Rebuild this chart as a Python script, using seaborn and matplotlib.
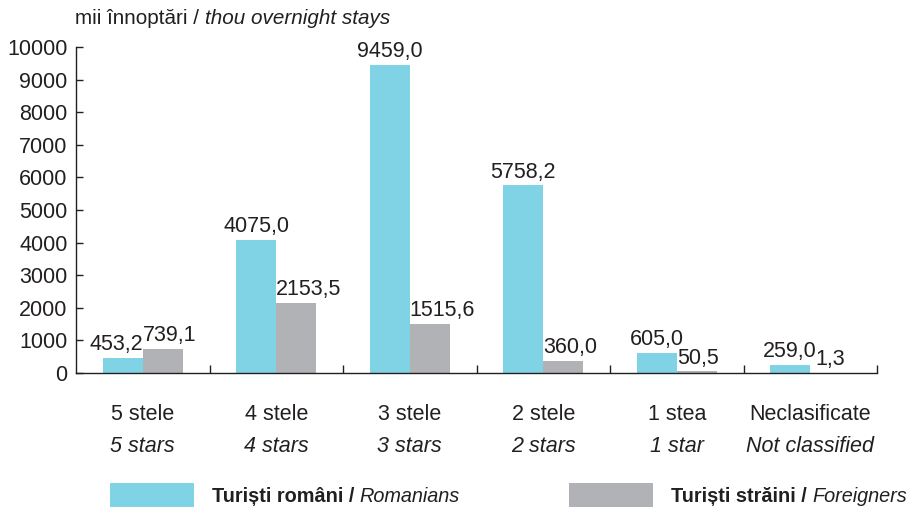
import numpy as np
import pandas as pd
import matplotlib
matplotlib.use("Agg")
import matplotlib.pyplot as plt
import matplotlib.transforms as mtransforms
from matplotlib.patches import Rectangle
import seaborn as sns

# ---- data ----
categories_ro = ["5 stele", "4 stele", "3 stele", "2 stele", "1 stea", "Neclasificate"]
categories_en = ["5 stars", "4 stars", "3 stars", "2 stars", "1 star", "Not classified"]
romanians = [453.2, 4075.0, 9459.0, 5758.2, 605.0, 259.0]
foreigners = [739.1, 2153.5, 1515.6, 360.0, 50.5, 1.3]
series_en = ["Romanians", "Foreigners"]
series_names = ["Turiști români / ", "Turiști străini / "]
yticks = [0, 1000, 2000, 3000, 4000, 5000, 6000, 7000, 8000, 9000, 10000]

# ---- style ----
sns.set_theme(style="white")
plt.rcParams["font.family"] = ["Liberation Sans", "DejaVu Sans"]
TXT = "#231f20"
CYAN = "#80d3e4"
GREY = "#b1b2b5"
FS = 15.5

df = pd.DataFrame({
    "cat": categories_ro * 2,
    "val": romanians + foreigners,
    "series": [series_names[0]] * 6 + [series_names[1]] * 6,
})

fig = plt.figure(figsize=(9.13, 5.08), dpi=100)
ax = fig.add_axes([76 / 913, 1 - 373 / 508, (877 - 76) / 913, (373 - 47) / 508])

sns.barplot(data=df, x="cat", y="val", hue="series", order=categories_ro,
            hue_order=series_names, palette=[CYAN, GREY], width=0.6,
            saturation=1, legend=False, ax=ax, linewidth=0)

ax.set_xlim(-0.5, 5.5)
ax.set_ylim(0, 10000)
ax.set_xlabel("")
ax.set_ylabel("")
for s in ["top", "right"]:
    ax.spines[s].set_visible(False)
for s in ["left", "bottom"]:
    ax.spines[s].set_color(TXT)
    ax.spines[s].set_linewidth(1.0)

ax.set_yticks(yticks)
ax.set_yticklabels([str(v) for v in yticks], fontsize=FS, color=TXT)
ax.tick_params(axis="y", direction="in", length=5, width=1.0, color=TXT, pad=6, left=True)

ax.set_xticks([])
ax.set_xticks(np.arange(0.5, 6.0, 1.0), minor=True)
ax.tick_params(axis="x", which="minor", direction="in", length=6, width=1.0, color=TXT, bottom=True)

# category labels (two lines)
btr = mtransforms.blended_transform_factory(ax.transData, fig.transFigure)
for i, (ro, en) in enumerate(zip(categories_ro, categories_en)):
    ax.text(i, 1 - 415 / 508, ro, transform=btr, ha="center", va="center",
            fontsize=FS, color=TXT)
    ax.text(i, 1 - 446 / 508, en, transform=btr, ha="center", va="center",
            fontsize=FS, color=TXT, style="italic")

# value labels
def fmt(v):
    return f"{v:.1f}".replace(".", ",")

align_ro = ["right", "center", "center", "center", "center", "center"]
align_fo = ["left", "left", "left", "left", "left", "center"]
for cont, vals, aligns in [(ax.containers[0], romanians, align_ro),
                           (ax.containers[1], foreigners, align_fo)]:
    for bar, v, a in zip(cont, vals, aligns):
        x0 = bar.get_x()
        w = bar.get_width()
        xp = {"left": x0, "center": x0 + w / 2, "right": x0 + w}[a]
        ax.annotate(fmt(v), xy=(xp, v), xytext=(0, 2), textcoords="offset points",
                    ha=a, va="bottom", fontsize=FS, color=TXT)

# y-axis title
t1 = fig.text(75 / 913, 1 - 28 / 508, "mii înnoptări / ", fontsize=FS * 0.96,
              color=TXT, ha="left", va="bottom")
ax.annotate("thou overnight stays", xy=(1, 0), xycoords=t1, ha="left", va="bottom",
            fontsize=FS * 0.96, color=TXT, style="italic", annotation_clip=False)

# legend (manual, mixed bold/italic)
leg_y0 = 1 - 507 / 508
leg_h = 24 / 508
for px, col, name, en in [(110, CYAN, series_names[0], series_en[0]),
                          (569, GREY, series_names[1], series_en[1])]:
    fig.add_artist(Rectangle((px / 913, leg_y0), 84 / 913, leg_h,
                             transform=fig.transFigure, facecolor=col, edgecolor="none"))
    tb = fig.text((px + 102) / 913, 1 - 506 / 508, name, fontsize=FS * 0.925,
                  fontweight="bold", color=TXT, ha="left", va="bottom")
    ax.annotate(en, xy=(1, 0), xycoords=tb, ha="left", va="bottom",
                fontsize=FS * 0.925, color=TXT, style="italic", annotation_clip=False)

fig.savefig("out.png", dpi=100)
